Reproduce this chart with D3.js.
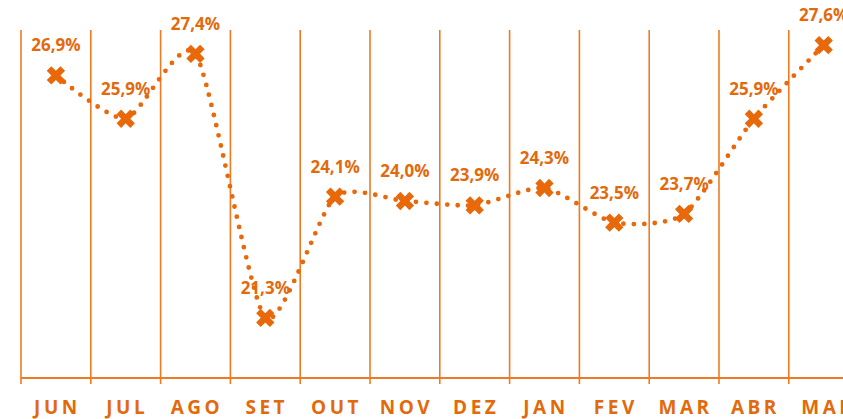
<!DOCTYPE html>
<html><head><meta charset="utf-8">
<script src="https://cdn.jsdelivr.net/npm/d3@7"></script>
<style>body{margin:0;background:#fff}svg{display:block}</style>
</head><body><svg id="c" width="843" height="419"></svg>
<script>
const months = ["JUN","JUL","AGO","SET","OUT","NOV","DEZ","JAN","FEV","MAR","ABR","MAI"];
const values = [26.9,25.9,27.4,21.3,24.1,24.0,23.9,24.3,23.5,23.7,25.9,27.6];
const labels = ["26,9%","25,9%","27,4%","21,3%","24,1%","24,0%","23,9%","24,3%","23,5%","23,7%","25,9%","27,6%"];

(function(){
const svg = d3.select("#c");
const pLeft = 21, step = 69.8, pTop = 30, pBottom = 378;
const x = d3.scaleBand().domain(months).range([pLeft, pLeft + step*months.length]).padding(0);
const y = d3.scaleLinear().domain([19.91, 27.95]).range([pBottom, pTop]);
const lineCol = "#EE7A22", markCol = "#E8680A", textCol = "#E36A0C";

const bounds = months.map(m => x(m));
svg.append("g").selectAll("line").data(bounds).join("line")
  .attr("x1", d => d).attr("x2", d => d).attr("y1", pTop).attr("y2", pBottom + 6)
  .attr("stroke", lineCol).attr("stroke-width", 1.6);
svg.append("line").attr("x1", pLeft).attr("x2", 843).attr("y1", pBottom).attr("y2", pBottom)
  .attr("stroke", lineCol).attr("stroke-width", 1.8);

svg.append("g").selectAll("text").data(months).join("text")
  .attr("x", d => x(d) + x.bandwidth()/2 + 1.5).attr("y", 414)
  .attr("text-anchor", "middle")
  .style("font-family", "'Open Sans', sans-serif").style("font-weight", 700)
  .style("font-size", "19px").style("letter-spacing", "3.5px")
  .attr("fill", textCol).text(d => d);

const cx = (d, i) => x(months[i]) + x.bandwidth()/2;
const line = d3.line().x((d,i) => cx(d,i)).y(d => y(d)).curve(d3.curveCardinal.tension(0.35));
svg.append("path").datum(values).attr("d", line).attr("fill", "none")
  .attr("stroke", markCol).attr("stroke-width", 4.8).attr("stroke-linecap", "round")
  .attr("stroke-dasharray", "0 10.4");

svg.append("g").selectAll("path").data(values).join("path")
  .attr("d", d3.symbol().type(d3.symbolCross).size(210))
  .attr("transform", (d,i) => `translate(${cx(d,i)},${y(d)}) rotate(45)`)
  .attr("fill", markCol);

svg.append("g").selectAll("text").data(values).join("text")
  .attr("x", (d,i) => cx(d,i)).attr("y", d => y(d) - 24)
  .attr("text-anchor", "middle")
  .style("font-family", "'Open Sans', sans-serif").style("font-weight", 700)
  .style("font-size", "17px")
  .attr("fill", textCol).text((d,i) => labels[i]);
})();
</script></body></html>
